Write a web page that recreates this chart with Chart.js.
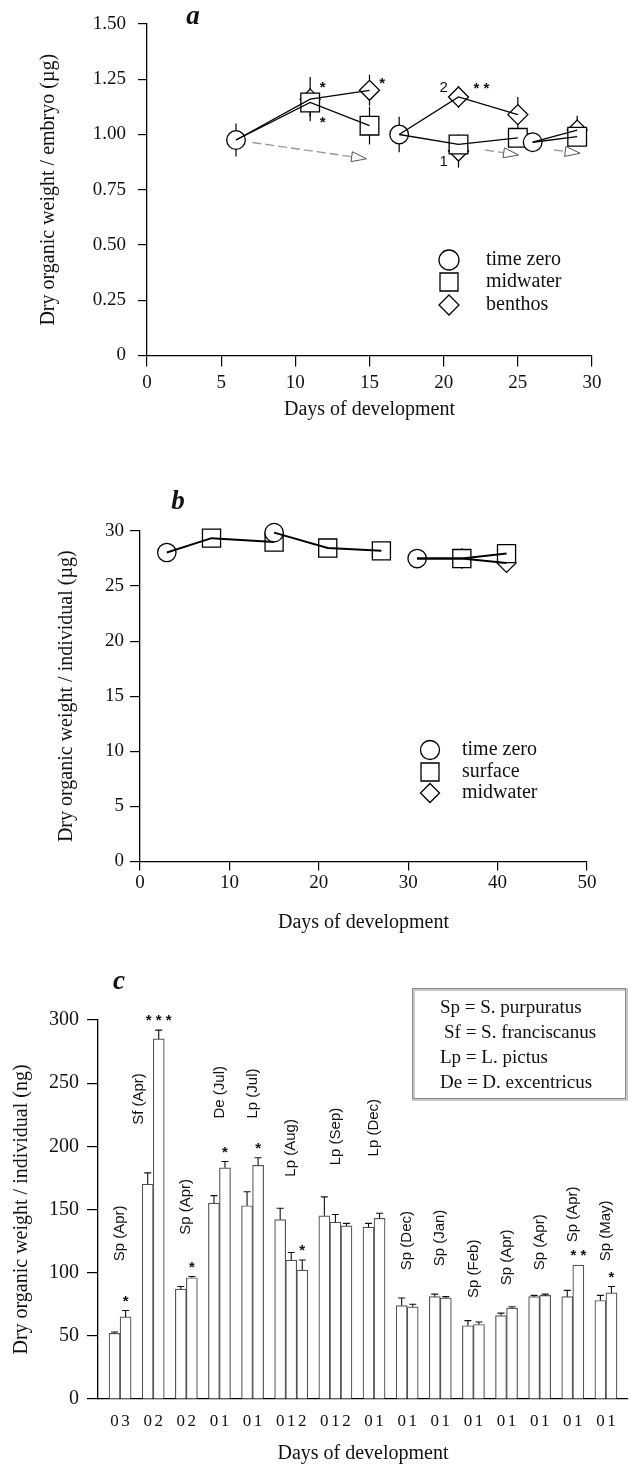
<!DOCTYPE html>
<html lang="en">
<head>
<meta charset="UTF-8">
<meta name="viewport" content="width=device-width, initial-scale=1.0">
<title>Dry organic weight during development</title>
<script src="https://cdn.jsdelivr.net/npm/chart.js@4.4.1/dist/chart.umd.min.js"></script>
<style>
  html, body { margin: 0; padding: 0; background: #fff; }
  body { position: relative; width: 631px; height: 1466px; overflow: hidden; }
  .panel { position: absolute; left: 0; width: 631px; }
  #panel_a { top: 0; height: 430px; }
  #panel_b { top: 440px; height: 505px; }
  #panel_c { top: 945px; height: 521px; }
</style>
</head>
<body>
  <div class="panel" id="panel_a"><canvas id="chartA"></canvas></div>
  <div class="panel" id="panel_b"><canvas id="chartB"></canvas></div>
  <div class="panel" id="panel_c"><canvas id="chartC"></canvas></div>

<script>
// ---------- panel a : embryos ----------
const aXTicks = [0, 5, 10, 15, 20, 25, 30];
const aYTicks = [0, 0.25, 0.5, 0.75, 1.0, 1.25, 1.5];
const aLegend = ['time zero', 'midwater', 'benthos'];

const aTimeZeroDays = [6, 17, 26];
const aTimeZero = [0.975, 1.00, 0.965];
const aTimeZeroErr = [0.075, 0.08, 0];

const aMidwaterDays = [11, 15, 21, 25, 29];
const aMidwater = [1.145, 1.04, 0.955, 0.985, 0.99];
const aMidwaterErr = [0.065, 0.085, 0, 0, 0];

const aBenthosDays = [11, 15, 21, 21, 25, 29];
const aBenthos = [1.16, 1.20, 1.17, 0.925, 1.09, 1.02];
const aBenthosErr = [0.1, 0.07, 0.05, 0.075, 0.08, 0.065];

// each run starts from one time zero point
const aRunMidwater = [[0, 1], [2, 3], [4]];
const aRunBenthos = [[0, 1], [2, 4], [5]];

const aStarDays = [11.85, 11.85, 15.85, 22.55];
const aStarVals = [1.224, 1.064, 1.243, 1.218];
const aStarText = ['*', '*', '*', '* *'];
const aNoteDays = [20.0, 20.0];
const aNoteVals = [1.213, 0.878];
const aNoteText = ['2', '1'];
const aArrowFrom = [[7.1, 0.964], [22.8, 0.93], [27.45, 0.93]];
const aArrowTo = [[14.8, 0.89], [25.05, 0.907], [29.2, 0.915]];

// ---------- panel b : larvae ----------
const bXTicks = [0, 10, 20, 30, 40, 50];
const bYTicks = [0, 5, 10, 15, 20, 25, 30];
const bLegend = ['time zero', 'surface', 'midwater'];

const bTimeZeroDays = [3, 15, 31];
const bTimeZero = [28.05, 29.85, 27.5];
const bSurfaceDays = [8, 15, 21, 27, 36, 41];
const bSurface = [29.35, 29.0, 28.45, 28.2, 27.5, 27.95];
const bMidwaterDays = [36, 41];
const bMidwater = [27.5, 27.1];

const bRunSurface = [[0, 1], [2, 3], [4, 5]];
const bRunMidwater = [[], [], [0, 1]];

// ---------- panel c : bars ----------
const cYTicks = [0, 50, 100, 150, 200, 250, 300];
const cGroups = ['Sp (Apr)', 'Sf (Apr)', 'Sp (Apr)', 'De (Jul)', 'Lp (Jul)', 'Lp (Aug)', 'Lp (Sep)', 'Lp (Dec)',
                 'Sp (Dec)', 'Sp (Jan)', 'Sp (Feb)', 'Sp (Apr)', 'Sp (Apr)', 'Sp (Apr)', 'Sp (May)'];
const cGroupSizes = [2, 2, 2, 2, 2, 3, 3, 2, 2, 2, 2, 2, 2, 2, 2];
const cDayLabels = ['0', '3', '0', '2', '0', '2', '0', '1', '0', '1', '0', '1', '2', '0', '1', '2',
                    '0', '1', '0', '1', '0', '1', '0', '1', '0', '1', '0', '1', '0', '1', '0', '1'];
const cMeans = [52, 65, 170, 285, 87, 96, 155, 183, 153, 185, 142, 110, 102, 145, 140, 137,
                136, 143, 74, 73, 81, 80, 58, 59, 66, 72, 81, 82, 81, 106, 78, 84];
const cErrors = [1, 5, 9, 7, 2, 1, 6, 5, 11, 6, 9, 6, 8, 15, 6, 2,
                 3, 4, 6, 2, 2, 1, 4, 2, 2, 1, 1, 1, 5, 0, 4, 5];
const cStars = ['', '*', '', '* * *', '', '*', '', '*', '', '*', '', '', '*', '', '', '',
                '', '', '', '', '', '', '', '', '', '', '', '', '', '* *', '', '*'];
const cLabelY = [109, 217, 130, 222, 222, 176, 185, 192, 102, 105, 80, 90, 102, 124, 109];
const cLabelShift = [0, -1.3, 0, 0, 0, 0, 0, 0, 0, 0, 0, 0, 0, 0, 0];
const cLegend = ['Sp = S. purpuratus', 'Sf = S. franciscanus', 'Lp = L. pictus', 'De = D. excentricus'];

// ---------- common ----------
const SERIF = "'Liberation Serif', 'Times New Roman', serif";
const SANS = "'Liberation Sans', Arial, sans-serif";
Chart.defaults.font.family = SERIF;
Chart.defaults.color = '#111';
Chart.defaults.animation = false;
Chart.defaults.events = [];
Chart.defaults.plugins.legend.display = false;
Chart.defaults.plugins.tooltip.enabled = false;

function pts(days, vals) {
    return days.map((d, i) => ({ x: d, y: vals[i] }));
}

function markerSet(days, vals, style, r) {
    return {
        data: pts(days, vals), showLine: false, pointStyle: style, pointRadius: r,
        pointBackgroundColor: '#fff', pointBorderColor: '#000', pointBorderWidth: 1.3,
        clip: false, order: 1
    };
}

function lineSet(data, w) {
    return {
        data: data, showLine: true, borderColor: '#000', borderWidth: w,
        pointRadius: 0, tension: 0, clip: false, order: 0
    };
}

function runLines(tzDays, tz, runs, days, vals, w) {
    const out = [];
    runs.forEach((idx, r) => {
        if (!idx.length) return;
        const d = [{ x: tzDays[r], y: tz[r] }].concat(idx.map(i => ({ x: days[i], y: vals[i] })));
        out.push(lineSet(d, w));
    });
    return out;
}

function axis(opts) {
    const ticks = { padding: opts.padding, font: { size: opts.fontSize }, color: '#111',
                    autoSkip: false, maxRotation: 0, minRotation: 0 };
    if (opts.callback) ticks.callback = opts.callback;
    const sc = {
        type: opts.type || 'linear',
        offset: !!opts.offset,
        afterFit: s => { if (opts.width) s.width = opts.width; if (opts.height) s.height = opts.height; },
        grid: { display: true, drawOnChartArea: false, drawTicks: true, tickLength: opts.tickLength,
                color: opts.tickColor || '#000', lineWidth: 1.2 },
        border: { display: true, color: '#000', width: 1.3 },
        ticks: ticks,
        title: { display: true, text: opts.title, font: { size: 20 }, color: '#111', padding: opts.titlePad }
    };
    if (opts.min !== undefined) { sc.min = opts.min; sc.max = opts.max; }
    if (opts.ticks) sc.afterBuildTicks = s => { s.ticks = opts.ticks.map(v => ({ value: v })); };
    return sc;
}

function drawSymbol(ctx, style, r, x, y) {
    ctx.beginPath();
    if (style === 'circle') ctx.arc(x, y, r, 0, Math.PI * 2);
    else if (style === 'rect') ctx.rect(x - r, y - r, 2 * r, 2 * r);
    else { ctx.moveTo(x, y - r); ctx.lineTo(x + r, y); ctx.lineTo(x, y + r); ctx.lineTo(x - r, y); ctx.closePath(); }
    ctx.fillStyle = '#fff';
    ctx.fill();
    ctx.strokeStyle = '#000';
    ctx.lineWidth = 1.3;
    ctx.stroke();
}

function drawLegend(ctx, labels, styles, sizes, sx, tx, rows) {
    ctx.font = '20px ' + SERIF;
    ctx.textAlign = 'left';
    ctx.textBaseline = 'middle';
    labels.forEach((t, i) => {
        drawSymbol(ctx, styles[i], sizes[i], sx, rows[i]);
        ctx.fillStyle = '#111';
        ctx.fillText(t, tx, rows[i]);
    });
}

function drawLetter(ctx, t, x, y) {
    ctx.font = 'bold italic 27px ' + SERIF;
    ctx.fillStyle = '#111';
    ctx.textAlign = 'center';
    ctx.textBaseline = 'middle';
    ctx.fillText(t, x, y);
}

function errBars(ctx, x, y, days, vals, errs) {
    days.forEach((d, i) => {
        if (!errs[i]) return;
        const px = x.getPixelForValue(d);
        ctx.beginPath();
        ctx.moveTo(px, y.getPixelForValue(vals[i] - errs[i]));
        ctx.lineTo(px, y.getPixelForValue(vals[i] + errs[i]));
        ctx.stroke();
    });
}

function drawArrow(ctx, x0, y0, x1, y1) {
    const ang = Math.atan2(y1 - y0, x1 - x0), len = 15, hw = 5;
    const bx = x1 - len * Math.cos(ang), by = y1 - len * Math.sin(ang);
    ctx.save();
    ctx.setLineDash([9, 4]);
    ctx.strokeStyle = '#9a9a9a';
    ctx.lineWidth = 1.4;
    ctx.beginPath(); ctx.moveTo(x0, y0); ctx.lineTo(bx, by); ctx.stroke();
    ctx.setLineDash([]);
    ctx.strokeStyle = '#555';
    ctx.lineWidth = 1;
    ctx.beginPath();
    ctx.moveTo(x1, y1);
    ctx.lineTo(bx - hw * Math.sin(ang), by + hw * Math.cos(ang));
    ctx.lineTo(bx + hw * Math.sin(ang), by - hw * Math.cos(ang));
    ctx.closePath();
    ctx.fillStyle = '#fff';
    ctx.fill();
    ctx.stroke();
    ctx.restore();
}

// ---------- chart a ----------
const panelAExtras = {
    id: 'panelAExtras',
    beforeDatasetsDraw(chart) {
        const { ctx, scales: { x, y } } = chart;
        ctx.save();
        ctx.strokeStyle = '#000';
        ctx.lineWidth = 1.2;
        errBars(ctx, x, y, aTimeZeroDays, aTimeZero, aTimeZeroErr);
        errBars(ctx, x, y, aMidwaterDays, aMidwater, aMidwaterErr);
        errBars(ctx, x, y, aBenthosDays, aBenthos, aBenthosErr);
        aArrowFrom.forEach((p, i) => {
            drawArrow(ctx, x.getPixelForValue(p[0]), y.getPixelForValue(p[1]),
                      x.getPixelForValue(aArrowTo[i][0]), y.getPixelForValue(aArrowTo[i][1]));
        });
        ctx.restore();
    },
    afterDatasetsDraw(chart) {
        const { ctx, scales: { x, y } } = chart;
        ctx.save();
        ctx.fillStyle = '#111';
        ctx.textAlign = 'center';
        ctx.textBaseline = 'middle';
        ctx.font = 'bold 15px ' + SANS;
        aStarText.forEach((t, i) => ctx.fillText(t, x.getPixelForValue(aStarDays[i]), y.getPixelForValue(aStarVals[i]) + 3));
        ctx.font = '15px ' + SANS;
        aNoteText.forEach((t, i) => ctx.fillText(t, x.getPixelForValue(aNoteDays[i]), y.getPixelForValue(aNoteVals[i])));
        drawLegend(ctx, aLegend, ['circle', 'rect', 'diamond'], [10, 9, 10], 449, 486, [260, 282, 305]);
        drawLetter(ctx, 'a', 193, 17);
        ctx.restore();
    }
};

new Chart(document.getElementById('chartA'), {
    type: 'scatter',
    data: {
        datasets: [
            markerSet(aTimeZeroDays, aTimeZero, 'circle', 9.3),
            markerSet(aMidwaterDays, aMidwater, 'rect', 13.2),
            markerSet(aBenthosDays, aBenthos, 'rectRot', 10)
        ].concat(
            runLines(aTimeZeroDays, aTimeZero, aRunMidwater, aMidwaterDays, aMidwater, 1.3),
            runLines(aTimeZeroDays, aTimeZero, aRunBenthos, aBenthosDays, aBenthos, 1.3)
        )
    },
    options: {
        responsive: true,
        maintainAspectRatio: false,
        layout: { padding: { top: 24, right: 39, left: 0, bottom: 0 } },
        scales: {
            x: axis({ min: 0, max: 30, ticks: aXTicks, height: 74.5, tickLength: 11, padding: 5, fontSize: 19,
                      title: 'Days of development', titlePad: { top: 0, bottom: 8 } }),
            y: axis({ min: 0, max: 1.5, ticks: aYTicks, width: 147, tickLength: 9, padding: 12, fontSize: 19,
                      callback: v => v === 0 ? '0' : v.toFixed(2),
                      title: 'Dry organic weight / embryo (\u00b5g)', titlePad: { top: 37, bottom: 0 } })
        }
    },
    plugins: [panelAExtras]
});

// ---------- chart b ----------
const panelBExtras = {
    id: 'panelBExtras',
    afterDatasetsDraw(chart) {
        const { ctx } = chart;
        ctx.save();
        drawLegend(ctx, bLegend, ['circle', 'rect', 'diamond'], [9.5, 9, 9.5], 430, 462, [310, 332, 353]);
        drawLetter(ctx, 'b', 178, 62);
        ctx.restore();
    }
};

new Chart(document.getElementById('chartB'), {
    type: 'scatter',
    data: {
        datasets: [
            markerSet(bTimeZeroDays, bTimeZero, 'circle', 9.2),
            markerSet(bSurfaceDays, bSurface, 'rect', 12.8),
            markerSet(bMidwaterDays, bMidwater, 'rectRot', 9.5)
        ].concat(
            runLines(bTimeZeroDays, bTimeZero, bRunSurface, bSurfaceDays, bSurface, 2),
            runLines(bTimeZeroDays, bTimeZero, bRunMidwater, bMidwaterDays, bMidwater, 2)
        )
    },
    options: {
        responsive: true,
        maintainAspectRatio: false,
        layout: { padding: { top: 91, right: 44, left: 0, bottom: 0 } },
        scales: {
            x: axis({ min: 0, max: 50, ticks: bXTicks, height: 83.5, tickLength: 9, padding: 1, fontSize: 19,
                      title: 'Days of development', titlePad: { top: 0, bottom: 10 } }),
            y: axis({ min: 0, max: 30, ticks: bYTicks, width: 140, tickLength: 10, padding: 6, fontSize: 19,
                      title: 'Dry organic weight / individual (\u00b5g)', titlePad: { top: 55, bottom: 0 } })
        }
    },
    plugins: [panelBExtras]
});

// ---------- chart c ----------
// one category per bar, with an empty slot between experiments
const slotLabels = [''], slotValues = [null], slotErrors = [null], slotStars = [''], groupCenters = [];
let k = 0;
cGroupSizes.forEach(n => {
    const start = slotLabels.length;
    for (let i = 0; i < n; i++, k++) {
        slotLabels.push(cDayLabels[k]);
        slotValues.push(cMeans[k]);
        slotErrors.push(cErrors[k]);
        slotStars.push(cStars[k]);
    }
    groupCenters.push(start + (n - 1) / 2);
    slotLabels.push(''); slotValues.push(null); slotErrors.push(null); slotStars.push('');
});

const panelCExtras = {
    id: 'panelCExtras',
    afterDatasetsDraw(chart) {
        const { ctx, scales: { x, y } } = chart;
        const slotW = x.getPixelForValue(1) - x.getPixelForValue(0);
        ctx.save();
        ctx.strokeStyle = '#111';
        ctx.lineWidth = 1.1;
        ctx.fillStyle = '#111';
        ctx.textAlign = 'center';
        ctx.textBaseline = 'middle';
        slotValues.forEach((v, i) => {
            if (v === null) return;
            const px = x.getPixelForValue(i);
            const top = y.getPixelForValue(v);
            const eTop = y.getPixelForValue(v + slotErrors[i]);
            if (slotErrors[i] > 0) {
                ctx.beginPath();
                ctx.moveTo(px, top); ctx.lineTo(px, eTop);
                ctx.moveTo(px - 3.5, eTop); ctx.lineTo(px + 3.5, eTop);
                ctx.stroke();
            }
            if (slotStars[i]) {
                ctx.font = 'bold 15px ' + SANS;
                ctx.fillText(slotStars[i], px, eTop - 9);
            }
        });
        ctx.font = '15px ' + SANS;
        ctx.textAlign = 'left';
        cGroups.forEach((g, gi) => {
            const px = x.getPixelForValue(groupCenters[gi]) + cLabelShift[gi] * slotW;
            const py = y.getPixelForValue(cLabelY[gi]);
            ctx.save();
            ctx.translate(px, py);
            ctx.rotate(-Math.PI / 2);
            ctx.fillText(g, 0, 0);
            ctx.restore();
        });
        // species key
        ctx.fillStyle = '#fff';
        ctx.fillRect(412, 43, 215, 112);
        ctx.strokeStyle = '#c8c8c8';
        ctx.lineWidth = 3;
        ctx.strokeRect(413.5, 44.5, 213, 110);
        ctx.strokeStyle = '#888';
        ctx.lineWidth = 1;
        ctx.strokeRect(412.5, 43.5, 213, 110);
        ctx.fillStyle = '#111';
        ctx.font = '19px ' + SERIF;
        ctx.textBaseline = 'middle';
        cLegend.forEach((t, i) => ctx.fillText(t, i === 1 ? 444 : 440, 63 + i * 25));
        drawLetter(ctx, 'c', 119, 37);
        ctx.restore();
    }
};

new Chart(document.getElementById('chartC'), {
    type: 'bar',
    data: {
        labels: slotLabels,
        datasets: [{
            data: slotValues,
            backgroundColor: '#fff',
            borderColor: '#555',
            borderWidth: 1.2,
            barPercentage: 1,
            categoryPercentage: 1
        }]
    },
    options: {
        responsive: true,
        maintainAspectRatio: false,
        layout: { padding: { top: 75, right: 3, left: 0, bottom: 0 } },
        scales: {
            x: axis({ type: 'category', offset: true, height: 67, tickLength: 4, tickColor: 'rgba(0,0,0,0)',
                      padding: 8, fontSize: 17, title: 'Days of development', titlePad: { top: 0, bottom: 0 } }),
            y: axis({ min: 0, max: 300, ticks: cYTicks, width: 98, tickLength: 11, padding: 8, fontSize: 20,
                      title: 'Dry organic weight / individual (ng)', titlePad: { top: 10, bottom: 0 } })
        }
    },
    plugins: [panelCExtras]
});
</script>
</body>
</html>
